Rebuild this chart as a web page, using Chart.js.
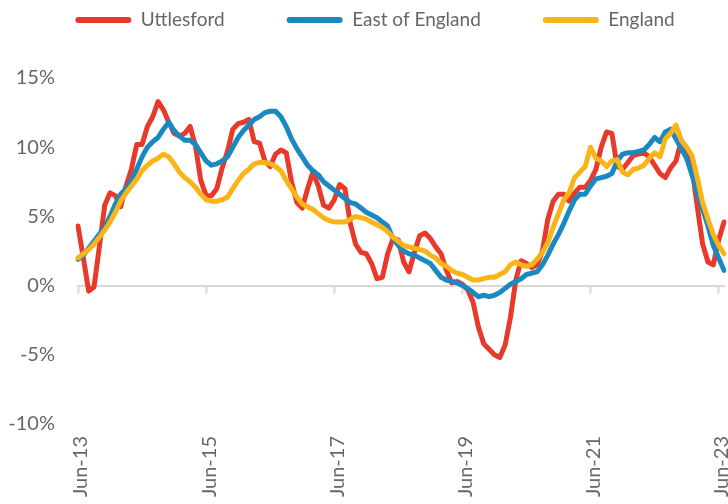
<!DOCTYPE html>
<html>
<head>
<meta charset="utf-8">
<script src="https://cdn.jsdelivr.net/npm/chart.js@4.4.1/dist/chart.umd.min.js"></script>
<style>
  html, body { margin: 0; padding: 0; background: #fff; overflow: hidden; }
</style>
</head>
<body>
<canvas id="chart" width="728" height="504"></canvas>
<script>
// monthly labels, Jun-13 .. Jul-23
const monthNames = ['Jan', 'Feb', 'Mar', 'Apr', 'May', 'Jun', 'Jul', 'Aug', 'Sep', 'Oct', 'Nov', 'Dec'];
const labels = [];
for (let i = 0; i < 122; i++) {
    labels.push(monthNames[(5 + i) % 12] + '-' + (13 + Math.floor((5 + i) / 12)));
}

const uttlesford = [
    4.3, 2.0, -0.4, -0.1, 2.8, 5.8, 6.7, 6.5, 5.7, 7.2, 8.4, 10.2,
    10.2, 11.5, 12.2, 13.3, 12.7, 11.8, 11.0, 10.8, 11.0, 11.5, 10.1, 7.6,
    6.5, 6.5, 7.0, 8.5, 9.7, 11.3, 11.7, 11.8, 12.0, 10.4, 10.3, 9.0,
    8.6, 9.5, 9.8, 9.6, 7.5, 6.0, 5.6, 7.0, 8.2, 7.2, 5.8, 5.6,
    6.2, 7.3, 7.0, 4.5, 3.0, 2.4, 2.3, 1.6, 0.5, 0.6, 2.3, 3.4,
    3.3, 1.7, 1.0, 2.4, 3.6, 3.8, 3.4, 2.8, 2.3, 1.1, 0.2, 0.3,
    0.1, -0.3, -1.2, -3.0, -4.2, -4.6, -5.0, -5.2, -4.3, -2.3, 0.4, 1.8,
    1.6, 1.3, 1.5, 2.5, 4.8, 6.1, 6.6, 6.6, 6.1, 6.7, 7.1, 7.1,
    7.6, 8.4, 10.0, 11.1, 11.0, 8.6, 8.4, 8.9, 9.4, 9.5, 9.6, 9.3,
    8.7, 8.1, 7.8, 8.5, 9.0, 10.5, 9.8, 8.5, 5.7, 3.0, 1.7, 1.5,
    3.3, 4.6
];

const eastOfEngland = [
    1.9, 2.2, 2.7, 3.2, 3.7, 4.2, 5.0, 5.9, 6.6, 7.0, 7.6, 8.4,
    9.3, 10.0, 10.4, 10.7, 11.3, 11.8, 11.2, 10.8, 10.5, 10.5, 10.2, 9.6,
    9.0, 8.7, 8.8, 9.0, 9.3, 10.0, 10.7, 11.2, 11.6, 12.0, 12.2, 12.5,
    12.6, 12.6, 12.2, 11.5, 10.6, 9.9, 9.3, 8.7, 8.3, 8.0, 7.5, 7.2,
    6.9, 6.6, 6.3, 6.0, 5.9, 5.6, 5.3, 5.1, 4.9, 4.6, 4.3, 3.4,
    2.9, 2.5, 2.3, 2.2, 2.0, 1.8, 1.6, 1.1, 0.6, 0.4, 0.3, 0.2,
    0.0, -0.2, -0.5, -0.8, -0.7, -0.8, -0.7, -0.5, -0.2, 0.1, 0.3, 0.5,
    0.8, 0.9, 1.0, 1.5, 2.2, 3.0, 3.7, 4.5, 5.4, 6.2, 6.6, 6.6,
    7.2, 7.7, 7.8, 7.9, 8.1, 9.0, 9.5, 9.6, 9.6, 9.7, 9.8, 10.2,
    10.7, 10.4, 11.1, 11.3, 10.6, 9.9, 9.2, 8.0, 6.7, 5.5, 4.3, 2.9,
    2.0, 1.1
];

const england = [
    2.0, 2.3, 2.6, 3.0, 3.5, 4.0, 4.6, 5.3, 6.1, 6.7, 7.2, 7.7,
    8.3, 8.7, 9.0, 9.2, 9.5, 9.3, 8.8, 8.2, 7.8, 7.5, 7.1, 6.6,
    6.2, 6.1, 6.1, 6.2, 6.4, 7.0, 7.6, 8.1, 8.4, 8.8, 8.9, 8.9,
    8.8, 8.6, 8.3, 7.6, 7.0, 6.4, 5.9, 5.7, 5.5, 5.2, 4.9, 4.7,
    4.6, 4.6, 4.6, 4.8, 5.0, 4.9, 4.8, 4.6, 4.4, 4.2, 3.9, 3.5,
    3.2, 2.9, 2.8, 2.7, 2.6, 2.5, 2.2, 2.0, 1.6, 1.4, 1.1, 0.9,
    0.8, 0.6, 0.4, 0.4, 0.5, 0.6, 0.6, 0.8, 1.0, 1.5, 1.7, 1.5,
    1.4, 1.5, 1.9, 2.4, 3.1, 4.2, 5.2, 6.2, 6.7, 7.8, 8.2, 8.6,
    10.0, 9.2, 9.0, 8.6, 9.0, 9.1, 8.2, 8.0, 8.4, 8.5, 8.7, 9.2,
    9.6, 9.3, 10.6, 11.0, 11.6, 10.5, 10.0, 9.4, 7.8, 6.0, 4.8, 3.7,
    2.9, 2.3
];

const yTicks = [-10, -5, 0, 5, 10, 15];

const textColor = '#666666';
const fontFamily = 'Lato';

// legend: extra space below it, and nudge it a little to the right
const legendTweak = {
    id: 'legendTweak',
    beforeInit(chart) {
        const fit = chart.legend.fit;
        chart.legend.fit = function () {
            fit.call(this);
            this.height += 38.5;
        };
    },
    afterLayout(chart) {
        chart.legend.left += 13;
        chart.legend.right += 13;
    }
};

const ctx = document.getElementById('chart').getContext('2d');

new Chart(ctx, {
    type: 'line',
    data: {
        labels: labels,
        datasets: [
            {
                label: 'Uttlesford',
                data: uttlesford,
                borderColor: '#E8392A',
                backgroundColor: '#E8392A',
                order: 3,
            },
            {
                label: 'East of England',
                data: eastOfEngland,
                borderColor: '#1A88C1',
                backgroundColor: '#1A88C1',
                order: 2,
            },
            {
                label: 'England',
                data: england,
                borderColor: '#FBB417',
                backgroundColor: '#FBB417',
                order: 1,
            },
        ],
    },
    options: {
        responsive: false,
        animation: false,
        devicePixelRatio: 1,
        layout: {
            padding: { top: -51.5, right: 4, bottom: 0, left: 0 },
        },
        elements: {
            line: { borderWidth: 5, tension: 0, fill: false, borderJoinStyle: 'round', borderCapStyle: 'round' },
            point: { radius: 0, hoverRadius: 0 },
        },
        plugins: {
            tooltip: { enabled: false },
            legend: {
                position: 'top',
                reverse: true,
                labels: {
                    boxWidth: 56,
                    boxHeight: 6,
                    useBorderRadius: true,
                    borderRadius: 3,
                    padding: 62,
                    color: textColor,
                    font: { family: fontFamily, size: 19 },
                    generateLabels: (chart) =>
                        Chart.defaults.plugins.legend.labels.generateLabels(chart).map((l) => ({
                            ...l,
                            lineWidth: 0,
                            fillStyle: l.strokeStyle,
                        })),
                },
            },
        },
        scales: {
            x: {
                type: 'category',
                position: 'bottom',
                grid: { display: false, drawTicks: false },
                border: { display: false },
                ticks: {
                    autoSkip: false,
                    maxRotation: 90,
                    minRotation: 90,
                    padding: 12,
                    labelOffset: 3,
                    color: textColor,
                    font: { family: fontFamily, size: 20 },
                    callback: function (value, index) {
                        return index % 24 === 0 ? this.getLabelForValue(value) : '';
                    },
                },
                afterFit: (scale) => {
                    scale.height = 80;
                    scale.paddingLeft = 0;
                    scale.paddingRight = 0;
                },
            },
            x2: {
                type: 'category',
                position: { y: 0 },
                grid: {
                    display: true,
                    drawOnChartArea: false,
                    drawTicks: true,
                    tickLength: 7,
                    tickWidth: 2,
                    tickColor: (c) => (c.index % 24 === 0 ? '#d9d9d9' : 'rgba(0,0,0,0)'),
                },
                border: { display: true, color: '#d9d9d9', width: 2 },
                ticks: { display: false, autoSkip: false },
            },
            y: {
                min: -10,
                max: 15,
                grid: { display: false, drawTicks: false },
                border: { display: false },
                afterBuildTicks: (scale) => {
                    scale.ticks = yTicks.map((v) => ({ value: v }));
                },
                ticks: {
                    padding: 23,
                    color: textColor,
                    font: { family: fontFamily, size: 20 },
                    callback: (v) => v + '%',
                },
                afterFit: (scale) => {
                    scale.width = 78;
                },
            },
        },
    },
    plugins: [legendTweak],
});
</script>
</body>
</html>
